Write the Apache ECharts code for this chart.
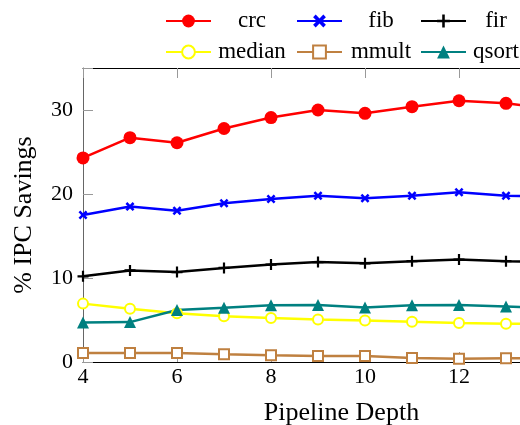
<!DOCTYPE html>
<html>
<head>
<meta charset="utf-8">
<script src="https://cdn.jsdelivr.net/npm/echarts@6/dist/echarts.min.js"></script>
<style>html,body{margin:0;padding:0;background:#fff;}#c{width:520px;height:425px;}</style>
</head>
<body>
<div id="c"></div>
<script>
const depths = [4, 5, 6, 7, 8, 9, 10, 11, 12, 13, 14];
const crc    = [24.3, 26.7, 26.1, 27.8, 29.1, 30.0, 29.6, 30.4, 31.1, 30.8, 30.1];
const fib    = [17.5, 18.5, 18.0, 18.9, 19.4, 19.8, 19.5, 19.8, 20.2, 19.8, 19.7];
const fir    = [10.2, 10.9, 10.7, 11.2, 11.6, 11.9, 11.75, 12.0, 12.2, 12.0, 11.9];
const median = [6.95, 6.35, 5.8, 5.45, 5.25, 5.05, 4.95, 4.78, 4.65, 4.56, 4.5];
const mmult  = [1.07, 1.07, 1.07, 0.92, 0.8, 0.72, 0.72, 0.48, 0.4, 0.45, 0.45];
const qsort  = [4.7, 4.75, 6.2, 6.45, 6.75, 6.8, 6.5, 6.75, 6.8, 6.6, 6.4];
const xTicks = [4, 6, 8, 10, 12, 14];
const yTicks = [0, 10, 20, 30];

const FONT = 'Liberation Serif';
const pts = arr => depths.map((d, i) => [d, arr[i]]);
const X_PATH = 'path://M0,2 L2,0 L5,3 L8,0 L10,2 L7,5 L10,8 L8,10 L5,7 L2,10 L0,8 L3,5 Z';
const PLUS_PATH = 'path://M4,0 H6 V4 H10 V6 H6 V10 H4 V6 H0 V4 H4 Z';

function mk(name, data, color, symbol, size, extra) {
  return Object.assign({
    name, type: 'line', data: pts(data),
    symbol, symbolSize: size,
    lineStyle: { color, width: 2.5 },
    itemStyle: { color, borderColor: color, borderWidth: 0 },
    emphasis: { disabled: true },
    animation: false
  }, extra || {});
}

const series = [
  mk('crc', crc, '#ff0000', 'circle', 13),
  mk('fib', fib, '#0000ff', X_PATH, 9),
  mk('fir', fir, '#000000', PLUS_PATH, 11),
  mk('median', median, '#ffff00', 'emptyCircle', 10, { itemStyle: { color: '#ffff00', borderWidth: 2.5 } }),
  mk('mmult', mmult, '#bf8040', 'emptyRect', 10, { itemStyle: { color: '#bf8040', borderWidth: 2.5 } }),
  mk('qsort', qsort, '#008080', 'triangle', 12)
];

function legend(names, left, w) {
  return {
    data: names, orient: 'vertical', left: left, top: 4,
    itemWidth: 45, itemHeight: 16, itemGap: 7,
    formatter: n => '{t|' + n + '}',
    textStyle: {
      rich: { t: { width: w, height: 24, lineHeight: 24, align: 'center', fontSize: 23, fontFamily: FONT, color: '#000' } }
    },
    selectedMode: false
  };
}

const axisCommonX = {
  type: 'value', min: 4, max: 15, interval: 2,
  splitLine: { show: false },
  axisTick: { show: true, inside: true, length: 10, lineStyle: { color: '#999', width: 1 } },
};

const chart = echarts.init(document.getElementById('c'), null, { renderer: 'canvas' });
chart.setOption({
  backgroundColor: '#fff',
  animation: false,
  grid: { left: 83, top: 68, bottom: 63, width: 517, containLabel: false, outerBoundsMode: 'none' },
  legend: [
    legend(['crc', 'median'], 160, 72),
    legend(['fib', 'mmult'], 291, 68),
    legend(['fir', 'qsort'], 415, 50)
  ],
  xAxis: [
    Object.assign({}, axisCommonX, {
      position: 'bottom',
      axisLine: { show: true, onZero: false, lineStyle: { color: '#000', width: 1 } },
      axisLabel: { show: true, margin: 4, fontSize: 22, fontFamily: FONT, color: '#000',
        formatter: v => xTicks.indexOf(v) >= 0 ? String(v) : '' },
      name: 'Pipeline Depth', nameLocation: 'middle', nameGap: 38,
      nameTextStyle: { fontSize: 26, fontFamily: FONT, color: '#000' }
    }),
    Object.assign({}, axisCommonX, {
      position: 'top',
      axisLine: { show: true, onZero: false, lineStyle: { color: '#000', width: 1 } },
      axisLabel: { show: false }
    })
  ],
  yAxis: [
    {
      type: 'value', min: 0, max: 35, interval: 10,
      splitLine: { show: false },
      axisLine: { show: true, onZero: false, lineStyle: { color: '#666', width: 1 } },
      axisTick: { show: true, inside: true, length: 10, lineStyle: { color: '#999', width: 1 } },
      axisLabel: { show: true, margin: 10, fontSize: 22, fontFamily: FONT, color: '#000',
        formatter: v => yTicks.indexOf(v) >= 0 ? String(v) : '' },
      name: '% IPC Savings', nameLocation: 'middle', nameGap: 46, nameRotate: 90,
      nameTextStyle: { fontSize: 26, fontFamily: FONT, color: '#000' }
    },
    {
      type: 'value', min: 0, max: 35, interval: 10, position: 'right',
      splitLine: { show: false },
      axisLine: { show: true, onZero: false, lineStyle: { color: '#000' } },
      axisTick: { show: true, inside: true, length: 10, lineStyle: { color: '#999' } },
      axisLabel: { show: false }
    }
  ],
  series: series
});
</script>
</body>
</html>
